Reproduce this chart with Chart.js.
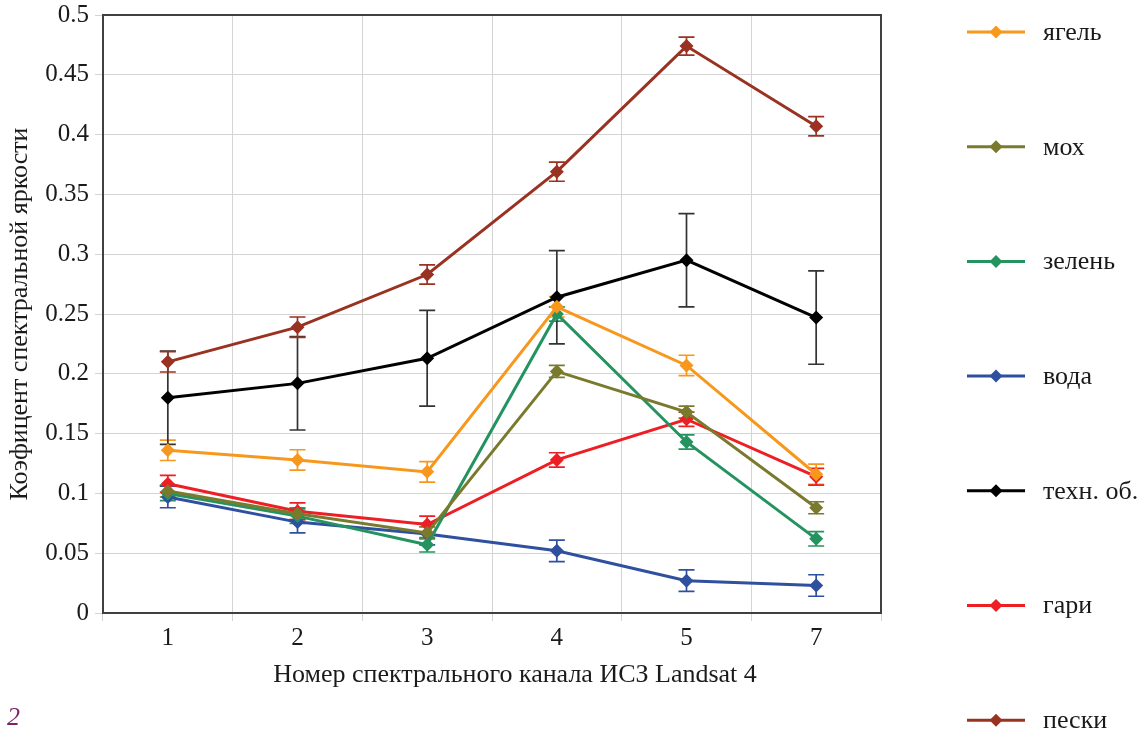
<!DOCTYPE html>
<html>
<head>
<meta charset="utf-8">
<script src="https://cdn.jsdelivr.net/npm/chart.js@4.4.0/dist/chart.umd.min.js"></script>
<style>
  html, body { margin: 0; padding: 0; background: #fff; }
</style>
</head>
<body>
<canvas id="chart" width="1145" height="732"></canvas>
<script>
// spectral channels of Landsat 4
const channels = ['1', '2', '3', '4', '5', '7'];

const yagel   = [0.136, 0.128, 0.118, 0.256, 0.207, 0.116];
const mokh    = [0.102, 0.083, 0.067, 0.202, 0.168, 0.088];
const zelen   = [0.100, 0.081, 0.057, 0.250, 0.143, 0.062];
const voda    = [0.097, 0.076, 0.066, 0.052, 0.027, 0.023];
const tekhn   = [0.180, 0.192, 0.213, 0.264, 0.295, 0.247];
const gari    = [0.108, 0.085, 0.074, 0.128, 0.162, 0.114];
const peski   = [0.210, 0.239, 0.283, 0.369, 0.474, 0.407];

// half-widths of the error bars
const yagelErr = [0.0085, 0.0085, 0.0085, 0.0085, 0.0085, 0.0085];
const mokhErr  = [0.005, 0.005, 0.005, 0.005, 0.005, 0.005];
const zelenErr = [0.006, 0.006, 0.006, 0.006, 0.006, 0.006];
const vodaErr  = [0.009, 0.009, 0.009, 0.009, 0.009, 0.009];
const tekhnErr = [0.039, 0.039, 0.04, 0.039, 0.039, 0.039];
const gariErr  = [0.007, 0.007, 0.007, 0.006, 0.006, 0.007];
const peskiErr = [0.0085, 0.0085, 0.008, 0.008, 0.0075, 0.008];

const yTicks = [0, 0.05, 0.1, 0.15, 0.2, 0.25, 0.3, 0.35, 0.4, 0.45, 0.5];

const xTitle = 'Номер спектрального канала ИСЗ Landsat 4';

const serif = '"Liberation Serif", "DejaVu Serif", serif';

function series(label, data, errors, color, errColor) {
  return {
    label: label,
    data: data,
    errors: errors,
    errColor: errColor || color,
    borderColor: color,
    backgroundColor: color,
    borderWidth: 3,
    tension: 0,
    pointStyle: 'rectRot',
    pointRadius: 7,
    pointHoverRadius: 7,
    pointBackgroundColor: color,
    pointBorderColor: color,
    pointBorderWidth: 0
  };
}

// draws the error bars under the markers
const errorBars = {
  id: 'errorBars',
  beforeDatasetsDraw(chart) {
    const ctx = chart.ctx, y = chart.scales.y;
    chart.data.datasets.forEach((ds, i) => {
      const meta = chart.getDatasetMeta(i);
      ctx.save();
      ctx.strokeStyle = ds.errColor;
      ctx.lineWidth = 1.7;
      meta.data.forEach((pt, j) => {
        const top = y.getPixelForValue(ds.data[j] + ds.errors[j]);
        const bot = y.getPixelForValue(ds.data[j] - ds.errors[j]);
        ctx.beginPath();
        ctx.moveTo(pt.x, top); ctx.lineTo(pt.x, bot);
        ctx.moveTo(pt.x - 8, top); ctx.lineTo(pt.x + 8, top);
        ctx.moveTo(pt.x - 8, bot); ctx.lineTo(pt.x + 8, bot);
        ctx.stroke();
      });
      ctx.restore();
    });
  }
};

// box around the plot area
const frame = {
  id: 'frame',
  beforeDatasetsDraw(chart) {
    const a = chart.chartArea, ctx = chart.ctx;
    ctx.save();
    ctx.strokeStyle = '#404040';
    ctx.lineWidth = 2;
    ctx.strokeRect(a.left, a.top, a.right - a.left, a.bottom - a.top);
    ctx.restore();
  }
};

// legend column on the right, x axis title and the panel number
const sideLegend = {
  id: 'sideLegend',
  afterDraw(chart) {
    const ctx = chart.ctx;
    chart.data.datasets.forEach((ds, i) => {
      const yy = 32 + i * 114.7;
      ctx.save();
      ctx.strokeStyle = ds.borderColor;
      ctx.lineWidth = 3;
      ctx.beginPath(); ctx.moveTo(967, yy); ctx.lineTo(1025, yy); ctx.stroke();
      ctx.fillStyle = ds.borderColor;
      ctx.beginPath();
      ctx.moveTo(996, yy - 6.5); ctx.lineTo(1002.5, yy); ctx.lineTo(996, yy + 6.5); ctx.lineTo(989.5, yy);
      ctx.closePath(); ctx.fill();
      ctx.fillStyle = '#1a1a1a';
      ctx.font = '26px ' + serif;
      ctx.textBaseline = 'middle';
      ctx.fillText(ds.label, 1043, yy + 1);
      ctx.restore();
    });
    ctx.save();
    ctx.fillStyle = '#1a1a1a';
    ctx.font = '26px ' + serif;
    ctx.textAlign = 'center';
    ctx.textBaseline = 'middle';
    ctx.fillText(xTitle, 515, 675);
    ctx.fillStyle = '#7b2463';
    ctx.font = 'italic 26px ' + serif;
    ctx.textAlign = 'left';
    ctx.fillText('2', 7, 718);
    ctx.restore();
  }
};

new Chart(document.getElementById('chart'), {
  type: 'line',
  data: {
    labels: channels,
    datasets: [
      series('ягель', yagel, yagelErr, '#f7981d'),
      series('мох', mokh, mokhErr, '#7a7a2e'),
      series('зелень', zelen, zelenErr, '#24935f'),
      series('вода', voda, vodaErr, '#2f4f9f'),
      series('техн. об.', tekhn, tekhnErr, '#000000', '#333333'),
      series('гари', gari, gariErr, '#ee1e25'),
      series('пески', peski, peskiErr, '#9a3222')
    ]
  },
  options: {
    responsive: false,
    animation: false,
    layout: { padding: { left: 1, right: 264, top: 3, bottom: 42 } },
    plugins: {
      legend: { display: false },
      tooltip: { enabled: false }
    },
    scales: {
      x: {
        offset: true,
        grid: { offset: true, color: '#d4d4d4', lineWidth: 1, tickLength: 8 },
        border: { display: false },
        ticks: { color: '#1a1a1a', font: { family: serif, size: 25 }, padding: 2 },
        afterFit(s) { s.height = 77; }
      },
      y: {
        min: 0,
        max: 0.5,
        afterBuildTicks(s) { s.ticks = yTicks.map(v => ({ value: v })); },
        grid: { color: '#d4d4d4', lineWidth: 1, tickLength: 8 },
        border: { display: false },
        ticks: {
          color: '#1a1a1a',
          font: { family: serif, size: 25 },
          padding: 6,
          callback: v => String(+v.toFixed(2))
        },
        title: {
          display: true,
          text: 'Коэфицент спектральной яркости',
          color: '#1a1a1a',
          font: { family: serif, size: 26 },
          padding: { top: 4, bottom: 4 }
        },
        afterFit(s) { s.width = 102; s.paddingTop = 15; s.paddingBottom = 0; }
      }
    }
  },
  plugins: [frame, errorBars, sideLegend]
});
</script>
</body>
</html>
